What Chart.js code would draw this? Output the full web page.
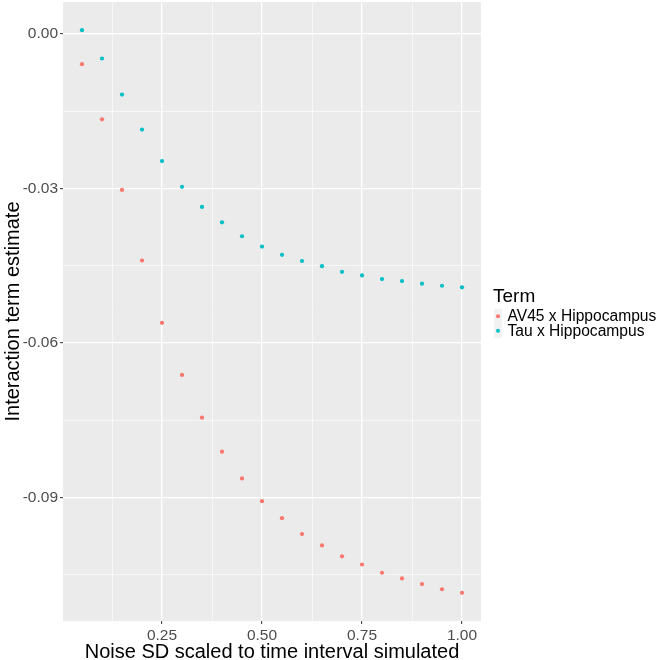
<!DOCTYPE html>
<html>
<head>
<meta charset="utf-8">
<script src="https://cdn.jsdelivr.net/npm/chart.js@4/dist/chart.umd.min.js"></script>
<style>
  html, body { margin: 0; padding: 0; background: #ffffff; }
  #wrap { width: 660px; height: 660px; }
</style>
</head>
<body>
<div id="wrap"><canvas id="c" width="660" height="660"></canvas></div>
<script>
const xValues = [0.05, 0.10, 0.15, 0.20, 0.25, 0.30, 0.35, 0.40, 0.45, 0.50,
                 0.55, 0.60, 0.65, 0.70, 0.75, 0.80, 0.85, 0.90, 0.95, 1.00];
const av45Values = [-0.0059, -0.0166, -0.0303, -0.0440, -0.0561, -0.0662, -0.0745, -0.0811, -0.0863, -0.0907,
                    -0.0940, -0.0971, -0.0993, -0.1014, -0.1030, -0.1046, -0.1057, -0.1068, -0.1078, -0.1085];
const tauValues = [0.0007, -0.0048, -0.0118, -0.0186, -0.0247, -0.0297, -0.0336, -0.0366, -0.0393, -0.0413,
                   -0.0429, -0.0441, -0.0451, -0.0462, -0.0469, -0.0476, -0.0480, -0.0485, -0.0489, -0.0492];
const seriesNames = ['AV45 x Hippocampus', 'Tau x Hippocampus'];
const seriesColors = ['#F8766D', '#00BFC4'];
const xMajorTicks = [0.25, 0.50, 0.75, 1.00];
const xMinorTicks = [0.125, 0.375, 0.625, 0.875];
const yMajorTicks = [0.00, -0.03, -0.06, -0.09];
const yMinorTicks = [-0.015, -0.045, -0.075, -0.105];
const legendTitle = 'Term';
const xTitle = 'Noise SD scaled to time interval simulated';
const yTitle = 'Interaction term estimate';

const FONT = "'Liberation Sans', Arial, Helvetica, sans-serif";

function expandRange(vals) {
  const mn = Math.min(...vals), mx = Math.max(...vals);
  const pad = (mx - mn) * 0.05;
  return [mn - pad, mx + pad];
}
const xr = expandRange(xValues);
const yr = expandRange(av45Values.concat(tauValues));

function isMajor(v, majors) {
  return majors.some(m => Math.abs(m - v) < 1e-9);
}

const bgPlugin = {
  id: 'panelBg',
  beforeDraw(chart) {
    const {ctx, chartArea: a} = chart;
    ctx.save();
    ctx.fillStyle = '#EBEBEB';
    ctx.fillRect(a.left, a.top, a.right - a.left, a.bottom - a.top);
    ctx.restore();
  }
};

const legendPlugin = {
  id: 'ggLegend',
  afterDraw(chart) {
    const ctx = chart.ctx;
    ctx.save();
    ctx.fillStyle = '#000000';
    ctx.font = '19px ' + FONT;
    ctx.textAlign = 'left';
    ctx.textBaseline = 'alphabetic';
    ctx.fillText(legendTitle, 493, 302);
    const keyTop = 309, keyH = 14.5;
    seriesNames.forEach((name, i) => {
      const y0 = keyTop + i * keyH;
      ctx.fillStyle = '#F2F2F2';
      ctx.fillRect(494, y0, 8, keyH);
      ctx.fillStyle = seriesColors[i];
      ctx.beginPath();
      ctx.arc(498, y0 + keyH / 2, 2, 0, Math.PI * 2);
      ctx.fill();
      ctx.fillStyle = '#000000';
      ctx.font = '15.6px ' + FONT;
      ctx.textBaseline = 'middle';
      ctx.fillText(name, 507.5, y0 + keyH / 2 + 0.5);
    });
    ctx.restore();
  }
};

const datasets = [av45Values, tauValues].map((vals, i) => ({
  label: seriesNames[i],
  data: xValues.map((x, j) => ({x: x, y: vals[j]})),
  backgroundColor: seriesColors[i],
  borderWidth: 0,
  pointRadius: 2.1,
  pointHoverRadius: 2.1
}));

function zeroPad(scale) {
  scale.paddingTop = 0; scale.paddingBottom = 0;
  scale.paddingLeft = 0; scale.paddingRight = 0;
}

new Chart(document.getElementById('c'), {
  type: 'scatter',
  data: { datasets },
  plugins: [bgPlugin, legendPlugin],
  options: {
    responsive: false,
    animation: false,
    events: [],
    layout: { autoPadding: false, padding: { top: 2, right: 179, left: 0, bottom: 0 } },
    plugins: { legend: { display: false }, tooltip: { enabled: false } },
    scales: {
      x: {
        type: 'linear',
        min: xr[0], max: xr[1],
        afterBuildTicks(scale) {
          scale.ticks = xMinorTicks.concat(xMajorTicks).sort((a, b) => a - b).map(v => ({value: v}));
        },
        afterFit(scale) { scale.height = 39; zeroPad(scale); },
        border: { display: false },
        grid: {
          color: '#FFFFFF',
          lineWidth: ctx => isMajor(ctx.tick.value, xMajorTicks) ? 1.3 : 0.6,
          tickColor: ctx => isMajor(ctx.tick.value, xMajorTicks) ? '#333333' : 'rgba(0,0,0,0)',
          tickLength: 3,
          tickWidth: 1
        },
        ticks: {
          autoSkip: false, maxRotation: 0, minRotation: 0,
          padding: 2,
          color: '#4D4D4D',
          font: { family: FONT, size: 15.5 },
          callback: v => isMajor(v, xMajorTicks) ? v.toFixed(2) : ''
        },
        title: {
          display: true, text: xTitle, color: '#000000',
          font: { family: FONT, size: 20, lineHeight: 0.8 },
          padding: { top: 0, bottom: 0 }
        }
      },
      y: {
        type: 'linear',
        min: yr[0], max: yr[1],
        afterBuildTicks(scale) {
          scale.ticks = yMinorTicks.concat(yMajorTicks).sort((a, b) => a - b).map(v => ({value: v}));
        },
        afterFit(scale) { scale.width = 63; zeroPad(scale); },
        border: { display: false },
        grid: {
          color: '#FFFFFF',
          lineWidth: ctx => isMajor(ctx.tick.value, yMajorTicks) ? 1.3 : 0.6,
          tickColor: ctx => isMajor(ctx.tick.value, yMajorTicks) ? '#333333' : 'rgba(0,0,0,0)',
          tickLength: 3,
          tickWidth: 1
        },
        ticks: {
          autoSkip: false,
          padding: 2,
          color: '#4D4D4D',
          font: { family: FONT, size: 15.5 },
          callback: v => isMajor(v, yMajorTicks) ? v.toFixed(2) : ''
        },
        title: {
          display: true, text: yTitle, color: '#000000',
          font: { family: FONT, size: 20, lineHeight: 1.2 },
          padding: { top: 1, bottom: 0 }
        }
      }
    }
  }
});
</script>
</body>
</html>
